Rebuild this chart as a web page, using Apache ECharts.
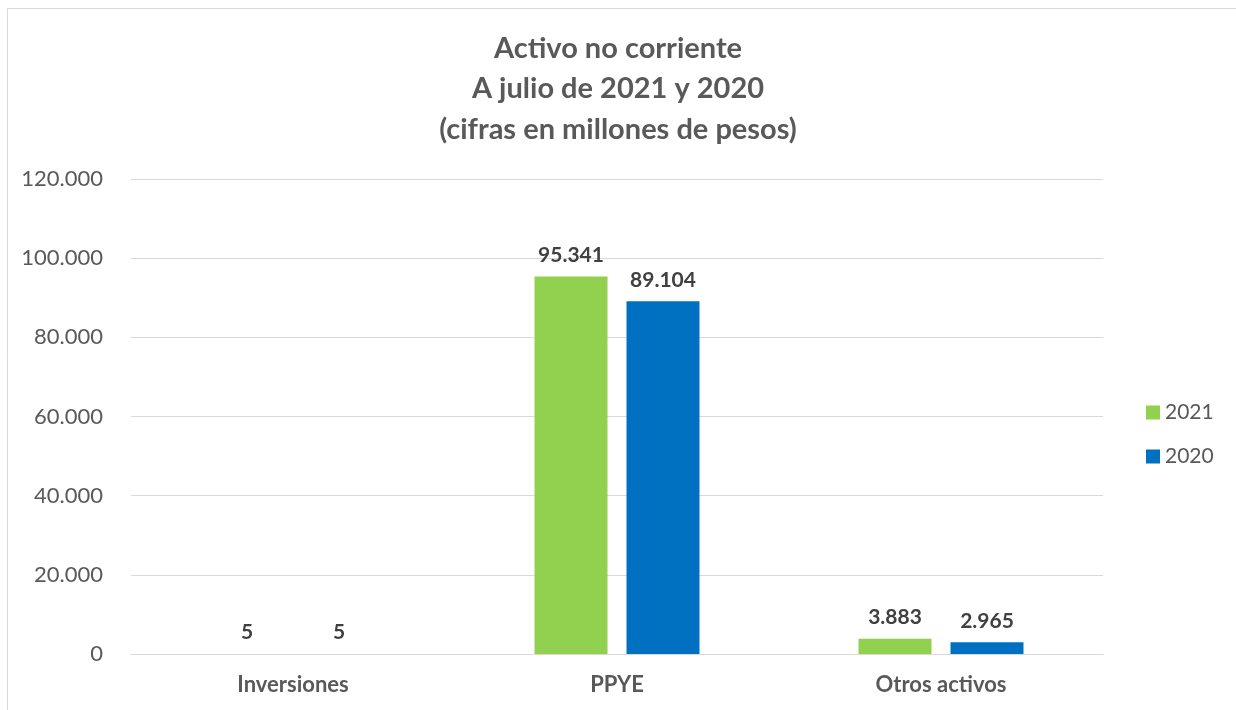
<!DOCTYPE html>
<html>
<head>
<meta charset="utf-8">
<script src="https://cdn.jsdelivr.net/npm/echarts@6/dist/echarts.min.js"></script>
<style>
html,body{margin:0;padding:0;background:#fff;}
#c{width:1236px;height:710px;}
</style>
</head>
<body>
<div id="c"></div>
<script>
const categories = ['Inversiones', 'PPYE', 'Otros activos'];
const values2021 = [5, 95341, 3883];
const values2020 = [5, 89104, 2965];
const seriesNames = ['2021', '2020'];
const titleLines = ['Activo no corriente', 'A julio de 2021 y 2020', '(cifras en millones de pesos)'];

function fmt(v) {
  return String(Math.round(v)).replace(/\B(?=(\d{3})+(?!\d))/g, '.');
}

const FONT = 'Lato, "Open Sans", sans-serif';
const chart = echarts.init(document.getElementById('c'));
chart.setOption({
  animation: false,
  textStyle: { fontFamily: FONT },
  title: {
    text: titleLines.join('\n'),
    left: 'center',
    top: 23,
    textStyle: { fontSize: 29, fontWeight: 'bold', color: '#595959', lineHeight: 40.5, fontFamily: FONT }
  },
  graphic: [
    { type: 'line', shape: { x1: 7.5, y1: 710, x2: 7.5, y2: 8.5 }, style: { stroke: '#d9d9d9', lineWidth: 1 } },
    { type: 'line', shape: { x1: 7.5, y1: 8.5, x2: 1236, y2: 8.5 }, style: { stroke: '#d9d9d9', lineWidth: 1 } }
  ],
  legend: {
    orient: 'vertical',
    left: 1141,
    top: 397,
    itemWidth: 14,
    itemHeight: 14,
    itemGap: 23,
    icon: 'rect',
    textStyle: { fontSize: 21, color: '#595959', fontFamily: FONT },
    data: seriesNames
  },
  grid: { left: 131, right: 133, top: 179, bottom: 56 },
  xAxis: {
    type: 'category',
    data: categories,
    axisLine: { lineStyle: { color: '#d9d9d9', width: 1 } },
    axisTick: { show: false },
    axisLabel: { fontSize: 22, fontWeight: 'bold', color: '#595959', margin: 20, fontFamily: FONT }
  },
  yAxis: {
    type: 'value',
    min: 0,
    max: 120000,
    interval: 20000,
    axisLine: { show: false },
    axisTick: { show: false },
    splitLine: { lineStyle: { color: '#d9d9d9', width: 1 } },
    axisLabel: { fontSize: 22, color: '#595959', margin: 28, formatter: fmt, fontFamily: FONT }
  },
  series: [
    {
      name: seriesNames[0],
      type: 'bar',
      data: values2021,
      barWidth: 73,
      barGap: '26%',
      itemStyle: { color: '#92d050' },
      label: { show: true, position: 'top', distance: 11, fontSize: 21, fontWeight: 'bold', color: '#404040', formatter: p => fmt(p.value), fontFamily: FONT }
    },
    {
      name: seriesNames[1],
      type: 'bar',
      data: values2020,
      barWidth: 73,
      itemStyle: { color: '#0070c0' },
      label: { show: true, position: 'top', distance: 11, fontSize: 21, fontWeight: 'bold', color: '#404040', formatter: p => fmt(p.value), fontFamily: FONT }
    }
  ]
});
</script>
</body>
</html>
